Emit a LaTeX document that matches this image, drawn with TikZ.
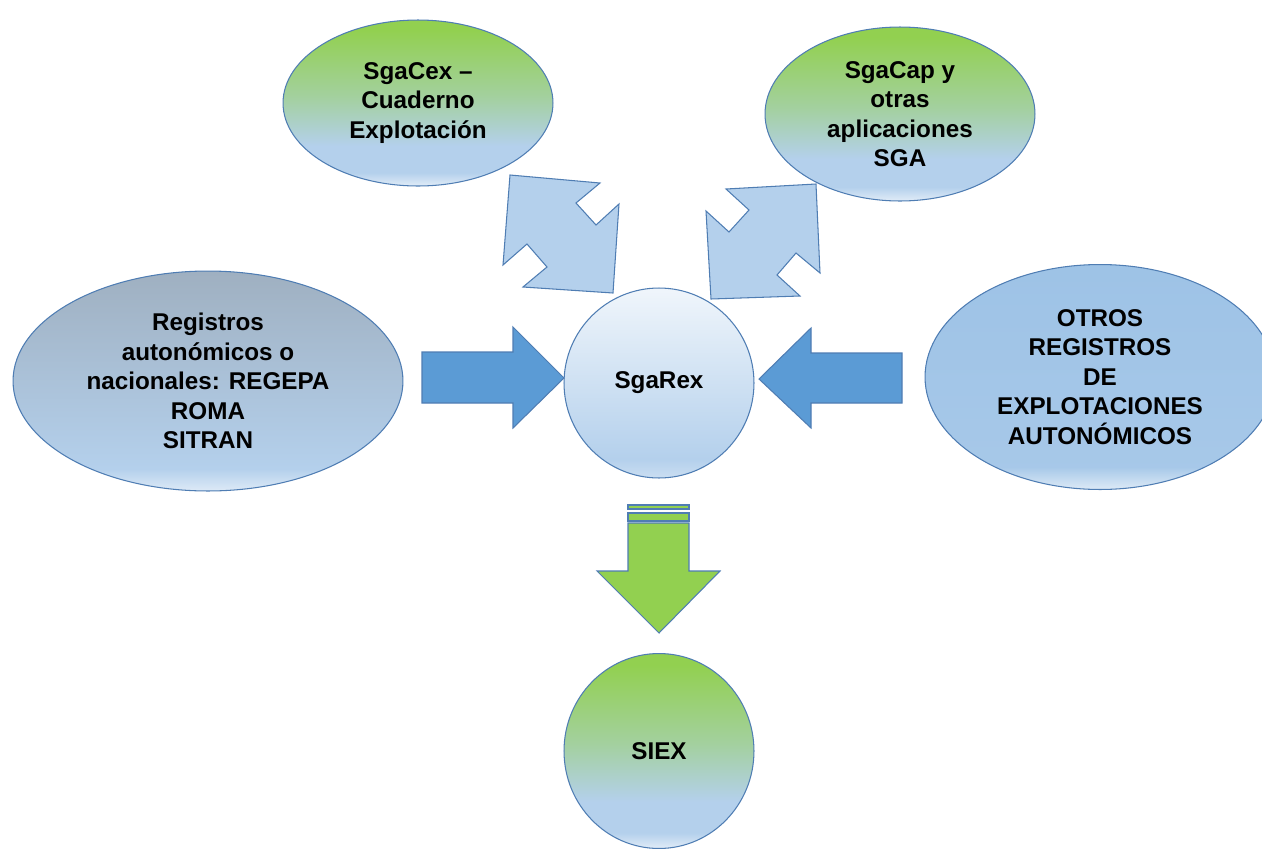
\documentclass[tikz,border=0pt]{standalone}
\usepackage{fontspec}
\setmainfont{Liberation Sans}
\usepackage{tikz}
\usetikzlibrary{shapes.geometric, positioning, calc}

\definecolor{edgeblue}{HTML}{4F7DB3}
\definecolor{arrowblue}{HTML}{5B9BD5}
\definecolor{paleblue}{HTML}{B4D0EC}
\definecolor{leafgreen}{HTML}{92D050}

% vertical fills, bottom (25bp) to top (75bp)
\pgfdeclareverticalshading{greensky}{100bp}{color(0bp)=(white!60!paleblue); color(25bp)=(white!60!paleblue);
  color(29bp)=(paleblue); color(37bp)=(paleblue); color(52bp)=(paleblue!50!leafgreen); color(72bp)=(leafgreen);
  color(100bp)=(leafgreen)}
\pgfdeclareverticalshading{greysky}{100bp}{color(0bp)=(white!55!paleblue); color(25bp)=(white!55!paleblue);
  color(30bp)=(paleblue); color(75bp)=(gray!40!paleblue); color(100bp)=(gray!40!paleblue)}
\pgfdeclareverticalshading{plainsky}{100bp}{color(0bp)=(white!55!paleblue); color(25bp)=(white!55!paleblue);
  color(30bp)=(paleblue!85!arrowblue); color(75bp)=(paleblue!75!arrowblue); color(100bp)=(paleblue!75!arrowblue)}
\pgfdeclareverticalshading{whitesky}{100bp}{color(0bp)=(white!30!paleblue); color(25bp)=(white!30!paleblue);
  color(30bp)=(paleblue); color(75bp)=(white!80!paleblue); color(100bp)=(white!80!paleblue)}

\begin{document}
\begin{tikzpicture}[x=0.02cm, y=-0.02cm,
    bubble/.style={ellipse, draw=edgeblue, line width=0.6pt, inner sep=0pt, align=center,
      font=\fontsize{13.8}{16.8}\selectfont\bfseries, text=black},
    blockarrow/.style={draw=edgeblue, line width=0.6pt, line join=miter}]

        \useasboundingbox (0,0) rectangle (1262,849);

        % Outer bubbles
        \node[bubble, shading=greensky, minimum width=5.4cm, minimum height=3.32cm] (cex) at (418,103)
          {SgaCex --\\Cuaderno\\Explotación};
        \node[bubble, shading=greensky, minimum width=5.4cm, minimum height=3.48cm] (cap) at (900,114)
          {SgaCap y\\otras\\aplicaciones\\SGA};
        \node[bubble, shading=greysky, minimum width=7.8cm, minimum height=4.4cm] (reg) at (208,381)
          {Registros\\autonómicos o\\nacionales: REGEPA\\ROMA\\SITRAN};
        \node[bubble, shading=plainsky, minimum width=7.0cm, minimum height=4.5cm] (otros) at (1100,377)
          {OTROS\\REGISTROS\\DE\\EXPLOTACIONES\\AUTONÓMICOS};

        % Centre and target
        \node[bubble, shading=whitesky, minimum width=3.8cm, minimum height=3.8cm] (rex) at (659,383) {SgaRex};
        \node[bubble, shading=greensky, minimum width=3.8cm, minimum height=3.9cm] (siex) at (659,751) {SIEX};

        % Double arrows to the top bubbles
        \filldraw[blockarrow, fill=paleblue]
          (510,175) -- (600,183) -- (576,203) -- (596,225) -- (619,204) -- (613,293)
          -- (523,287) -- (547,267) -- (527,244) -- (503,265) -- cycle;
        \filldraw[blockarrow, fill=paleblue]
          (816,184) -- (820,273) -- (796,253) -- (777,275) -- (800,296) -- (711,299)
          -- (706,211) -- (729,232) -- (749,210) -- (726,189) -- cycle;

        % Side arrows into SgaRex
        \filldraw[blockarrow, fill=arrowblue]
          (422,352) -- (513,352) -- (513,327) -- (564,378) -- (513,428) -- (513,403) -- (422,403) -- cycle;
        \filldraw[blockarrow, fill=arrowblue]
          (902,353) -- (811,353) -- (811,328) -- (759,379) -- (811,428) -- (811,403) -- (902,403) -- cycle;

        % Striped arrow down to SIEX
        \filldraw[blockarrow, fill=leafgreen] (628,505) rectangle (689,509);
        \filldraw[blockarrow, fill=leafgreen] (628,513) rectangle (689,521);
        \filldraw[blockarrow, fill=leafgreen]
          (628,523) -- (689,523) -- (689,571) -- (720,571) -- (659,633) -- (597,571) -- (628,571) -- cycle;

      \end{tikzpicture}
\end{document}
